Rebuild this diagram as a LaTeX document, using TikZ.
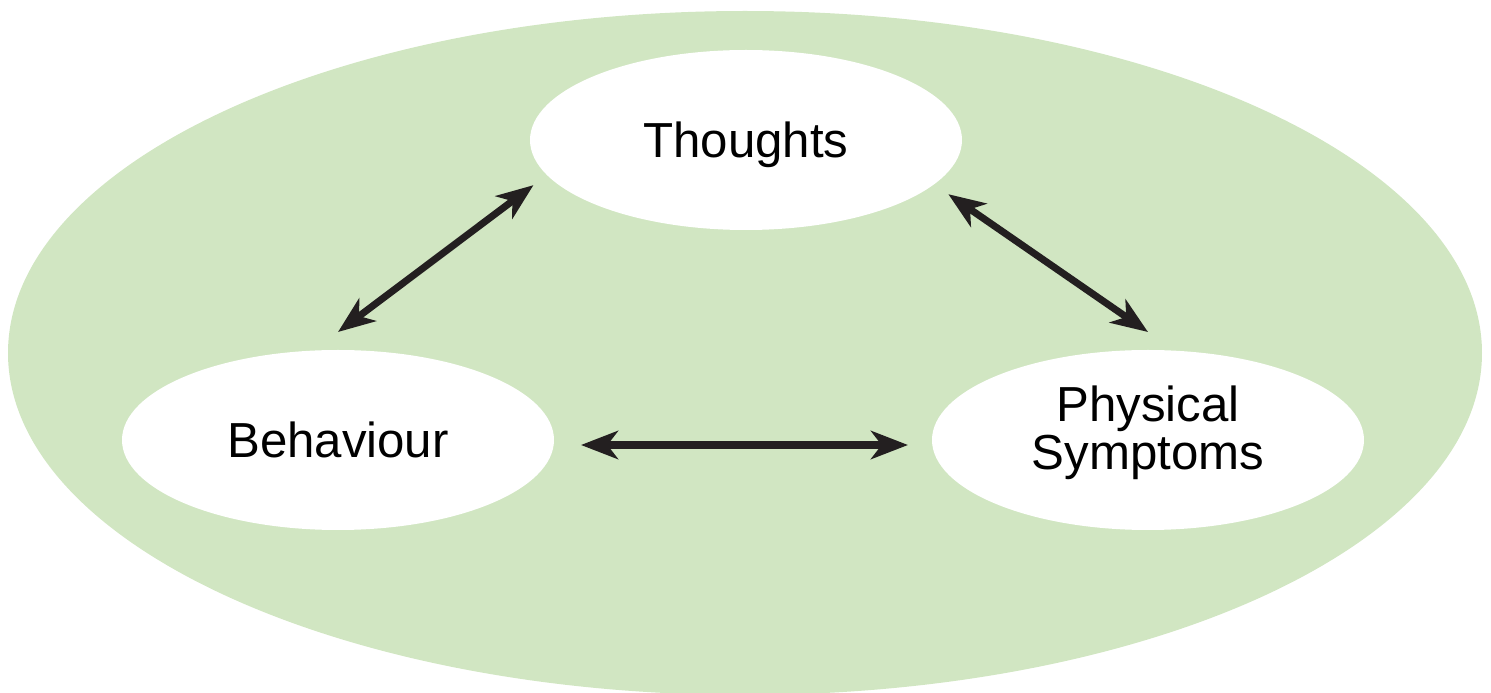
\documentclass[tikz,border=0pt]{standalone}
\usepackage{fontspec}
\setmainfont{Liberation Sans}
\usetikzlibrary{shapes.geometric,arrows.meta}
\definecolor{bggreen}{RGB}{209,230,194}
\definecolor{arrowdark}{RGB}{35,31,32}

\begin{document}
\begin{tikzpicture}[
    oval/.style={draw=none,fill=white,ellipse,inner sep=0pt,outer sep=0.18cm,
        minimum width=4.32cm,minimum height=1.8cm,align=center,
        font=\fontsize{14}{13.5}\selectfont},
    link/.style={arrowdark,line width=2pt,
        {Stealth[length=10.5pt,width=8pt,inset=3pt]}-{Stealth[length=10.5pt,width=8pt,inset=3pt]}}
    ]
                \useasboundingbox (0,0) rectangle (14.91,-6.93);
                \fill[bggreen] (7.45,-3.53) ellipse (7.37 and 3.42);

                \node[oval,text depth=0pt] (thoughts) at (7.46,-1.40) {Thoughts};
                \node[oval] (behaviour) at (3.38,-4.40) {Behaviour};
                \node[oval,text depth=7pt] (physical) at (11.48,-4.40) {Physical\\Symptoms};

                \draw[link] (behaviour.north) -- (thoughts.192);
                \draw[link] (thoughts.-15) -- (physical.north);
                \draw[link,shorten <=0.09cm,shorten >=0.06cm]
                    ([yshift=-0.05cm]behaviour.east) -- ([yshift=-0.05cm]physical.west);
            \end{tikzpicture}
\end{document}
